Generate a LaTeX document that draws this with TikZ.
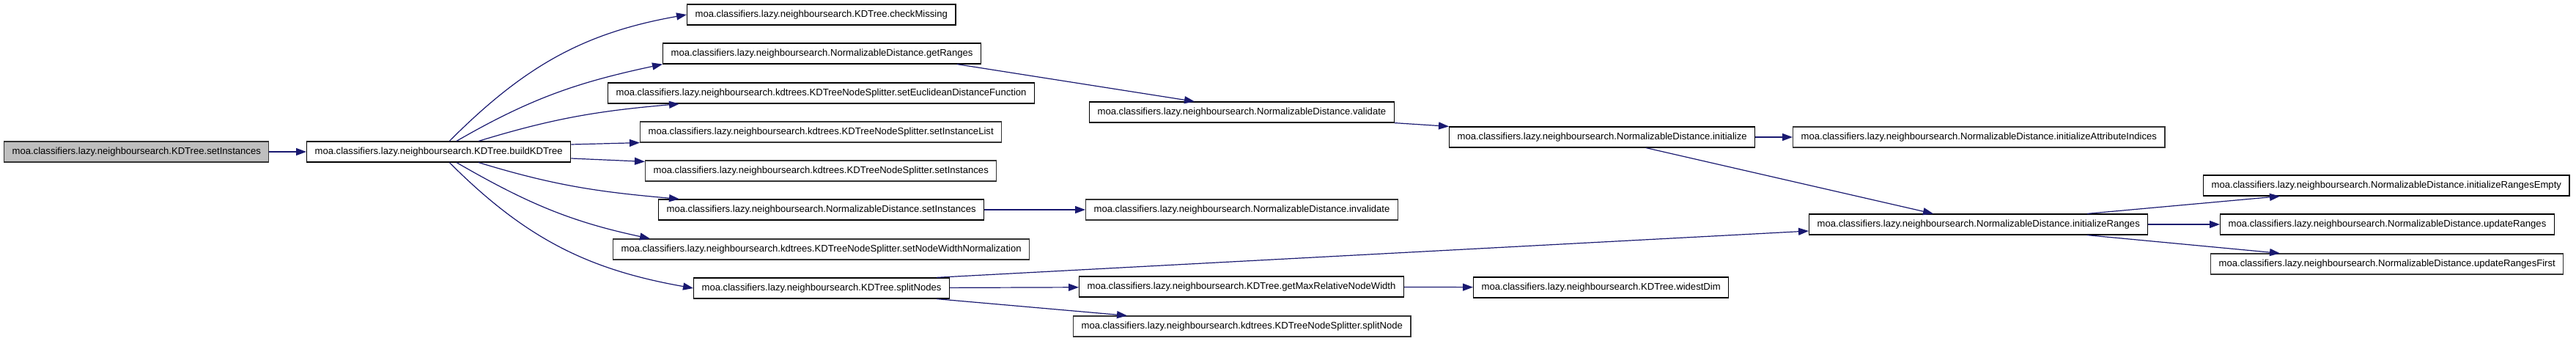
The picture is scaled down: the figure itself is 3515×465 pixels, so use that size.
\documentclass[tikz,border=0pt]{standalone}
\usepackage{fontspec}
\setmainfont{Liberation Sans}
\usepackage{xcolor}
\usepackage{tikz}
\usetikzlibrary{arrows.meta, calc}
\definecolor{edgeblue}{HTML}{191970}
\newcommand{\callfont}{\fontsize{13.1pt}{15pt}\selectfont}
\tikzset{
  fn/.style={draw=black, fill=white, line width=1.2pt, font=\callfont, inner xsep=11pt, inner ysep=0pt, minimum height=28pt, anchor=west},
  fnroot/.style={fn, draw=black!80, fill=black!25},
  fngrey/.style={fn, draw=black!80},
  call/.style={-{Triangle[length=14pt, width=10pt]}, draw=edgeblue, line width=1.2pt},
}

\begin{document}
\begin{tikzpicture}[x=1pt, y=1pt]
  \useasboundingbox (0,0) rectangle (3515,-465);
  % first column
  \node[fnroot] (setInst) at (5,-207) {moa.classifiers.lazy.neighboursearch.KDTree.setInstances};
  \node[fn] (build) at (418,-207) {moa.classifiers.lazy.neighboursearch.KDTree.buildKDTree};
  % callees of buildKDTree
  \node[fn] (check) at (937,-20) {moa.classifiers.lazy.neighboursearch.KDTree.checkMissing};
  \node[fn] (getRanges) at (904,-73) {moa.classifiers.lazy.neighboursearch.NormalizableDistance.getRanges};
  \node[fn] (setEucl) at (829,-127) {moa.classifiers.lazy.neighboursearch.kdtrees.KDTreeNodeSplitter.setEuclideanDistanceFunction};
  \node[fngrey] (setInstList) at (873,-180) {moa.classifiers.lazy.neighboursearch.kdtrees.KDTreeNodeSplitter.setInstanceList};
  \node[fngrey] (splSetInst) at (880,-233) {moa.classifiers.lazy.neighboursearch.kdtrees.KDTreeNodeSplitter.setInstances};
  \node[fn] (ndSetInst) at (898,-286) {moa.classifiers.lazy.neighboursearch.NormalizableDistance.setInstances};
  \node[fngrey] (setNodeWidth) at (836,-340) {moa.classifiers.lazy.neighboursearch.kdtrees.KDTreeNodeSplitter.setNodeWidthNormalization};
  \node[fn] (splitNodes) at (946,-393) {moa.classifiers.lazy.neighboursearch.KDTree.splitNodes};
  % third column
  \node[fn] (validate) at (1486,-153) {moa.classifiers.lazy.neighboursearch.NormalizableDistance.validate};
  \node[fngrey] (invalidate) at (1481,-286) {moa.classifiers.lazy.neighboursearch.NormalizableDistance.invalidate};
  \node[fn] (getMaxRel) at (1472,-391) {moa.classifiers.lazy.neighboursearch.KDTree.getMaxRelativeNodeWidth};
  \node[fngrey] (splitNode) at (1464,-445) {moa.classifiers.lazy.neighboursearch.kdtrees.KDTreeNodeSplitter.splitNode};
  % fourth column
  \node[fn] (initialize) at (1977,-187) {moa.classifiers.lazy.neighboursearch.NormalizableDistance.initialize};
  \node[fn] (widestDim) at (2010,-392) {moa.classifiers.lazy.neighboursearch.KDTree.widestDim};
  % last columns
  \node[fngrey] (initAttr) at (2446,-187) {moa.classifiers.lazy.neighboursearch.NormalizableDistance.initializeAttributeIndices};
  \node[fn] (initRanges) at (2468,-306) {moa.classifiers.lazy.neighboursearch.NormalizableDistance.initializeRanges};
  \node[fn] (initEmpty) at (3006,-253) {moa.classifiers.lazy.neighboursearch.NormalizableDistance.initializeRangesEmpty};
  \node[fn] (updRanges) at (3029,-306) {moa.classifiers.lazy.neighboursearch.NormalizableDistance.updateRanges};
  \node[fngrey] (updFirst) at (3016,-360) {moa.classifiers.lazy.neighboursearch.NormalizableDistance.updateRangesFirst};

  \draw[call] (setInst) -- (build);
  \draw[call] (build.45) to[out=45, in=190] (check.west);
  \draw[call] (build.31) to[out=30, in=192] (getRanges.south west);
  \draw[call] (build.15) to[out=17, in=185] ($(setEucl.south west)+(98,0)$);
  \draw[call] ($(build.east)+(0,10)$) -- (setInstList.south west);
  \draw[call] ($(build.east)+(0,-9)$) -- ($(splSetInst.north west)+(0,-2)$);
  \draw[call] (build.-15) to[out=-17, in=175] ($(ndSetInst.north west)+(29,0)$);
  \draw[call] (build.-31) to[out=-30, in=168] ($(setNodeWidth.north west)+(51,0)$);
  \draw[call] (build.-45) to[out=-45, in=170] (splitNodes.west);

  \draw[call] ($(getRanges.south east)+(-33,0)$) -- ($(validate.north west)+(144,0)$);
  \draw[call] (validate.south east) -- (initialize.north west);
  \draw[call] ($(splitNodes.north east)+(-18,0)$) -- ($(initRanges.west)+(0,-9)$);
  \draw[call] ($(splitNodes.south east)+(-18,0)$) -- ($(splitNode.north west)+(74,0)$);
  \draw[call] ($(initialize.south west)+(269,0)$) -- ($(initRanges.north west)+(170,0)$);
  \draw[call] ($(initRanges.north west)+(380,0)$) -- ($(initEmpty.south west)+(105,0)$);
  \draw[call] ($(initRanges.south west)+(380,0)$) -- ($(updFirst.north west)+(95,0)$);
  \foreach \a/\b in {ndSetInst/invalidate, splitNodes/getMaxRel, getMaxRel/widestDim, initialize/initAttr, initRanges/updRanges} \draw[call] (\a) -- (\b);
\end{tikzpicture}
\end{document}
